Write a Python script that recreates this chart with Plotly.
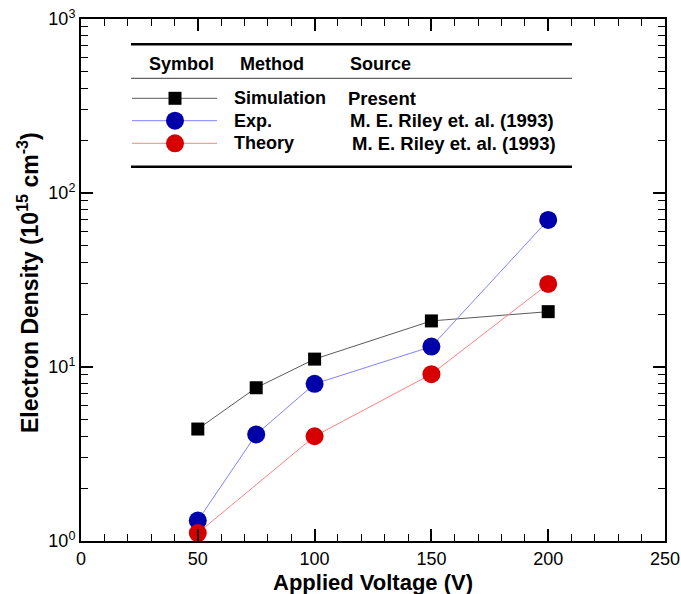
import plotly.graph_objects as go

# ---- data ----
voltage_sim = [50, 75, 100, 150, 200]
density_sim = [4.4, 7.6, 11.1, 18.4, 20.8]
voltage_exp = [50, 75, 100, 150, 200]
density_exp = [1.31, 4.1, 8.0, 13.1, 70.0]
voltage_theory = [50, 100, 150, 200]
density_theory = [1.11, 4.0, 9.1, 30.0]

x_ticks = [0, 50, 100, 150, 200, 250]
y_ticks = [1, 10, 100, 1000]
y_ticktext = ["10<sup>0</sup>", "10<sup>1</sup>", "10<sup>2</sup>", "10<sup>3</sup>"]
y_minor = [m * 10 ** d for d in range(3) for m in range(2, 10)]

legend_methods = ["Simulation", "Exp.", "Theory"]
legend_sources = ["Present", "M. E. Riley et. al. (1993)", "M. E. Riley et. al. (1993)"]
legend_headers = ["Symbol", "Method", "Source"]

# ---- style ----
W, H = 681, 594
L, R, T, B = 81, 665, 19, 541
FONT = "Liberation Sans, Arial, Helvetica, sans-serif"
sq_color = "black"
blue = "rgb(0,0,170)"
red = "rgb(215,0,0)"
line_sim = "rgb(90,90,90)"
line_blue = "rgb(130,130,255)"
line_red = "rgb(255,130,130)"


def px(x):
    return (x - L) / (R - L)


def py(y):
    return (B - y) / (B - T)


fig = go.Figure()

fig.add_trace(go.Scatter(x=voltage_sim, y=density_sim, mode="lines+markers",
                         line=dict(color=line_sim, width=1),
                         marker=dict(symbol="square", size=13, color=sq_color),
                         showlegend=False))
fig.add_trace(go.Scatter(x=voltage_exp, y=density_exp, mode="lines+markers",
                         line=dict(color=line_blue, width=1),
                         marker=dict(symbol="circle", size=18, color=blue),
                         showlegend=False))
fig.add_trace(go.Scatter(x=voltage_theory, y=density_theory, mode="lines+markers",
                         line=dict(color=line_red, width=1),
                         marker=dict(symbol="circle", size=18, color=red),
                         showlegend=False))

# ---- legend table (on overlay axes in fractional coordinates) ----
row_y = [98.3, 120.7, 143.3]
sym_styles = [
    (line_sim, "square", 13, sq_color),
    (line_blue, "circle", 18, blue),
    (line_red, "circle", 18, red),
]
for ry, (lc, sym, sz, mc) in zip(row_y, sym_styles):
    fig.add_trace(go.Scatter(x=[px(132), px(175), px(217)], y=[py(ry)] * 3,
                             mode="lines", line=dict(color=lc, width=1),
                             xaxis="x2", yaxis="y2", showlegend=False, hoverinfo="skip"))
    fig.add_trace(go.Scatter(x=[px(175)], y=[py(ry)], mode="markers",
                             marker=dict(symbol=sym, size=sz, color=mc),
                             xaxis="x2", yaxis="y2", showlegend=False, hoverinfo="skip"))

shapes = [
    dict(type="line", xref="paper", yref="paper", x0=px(131), x1=px(572), y0=py(44.3), y1=py(44.3),
         line=dict(color="black", width=2.5)),
    dict(type="line", xref="paper", yref="paper", x0=px(131), x1=px(572), y0=py(78.3), y1=py(78.3),
         line=dict(color="rgb(60,60,60)", width=1)),
    dict(type="line", xref="paper", yref="paper", x0=px(131), x1=px(572), y0=py(166.7), y1=py(166.7),
         line=dict(color="black", width=2.5)),
]

annotations = []
for txt, x in zip(legend_headers, [147, 238, 348]):
    annotations.append(dict(text="<b>%s</b>" % txt, x=px(x), y=py(63.5), xref="paper", yref="paper",
                            xanchor="left", yanchor="middle", showarrow=False,
                            font=dict(family=FONT, size=18, color="black")))
src_x = [346, 347.5, 350]
for ry, m, s, sx in zip(row_y, legend_methods, legend_sources, src_x):
    annotations.append(dict(text="<b>%s</b>" % m, x=px(232), y=py(ry), xref="paper", yref="paper",
                            xanchor="left", yanchor="middle", showarrow=False,
                            font=dict(family=FONT, size=18, color="black")))
    annotations.append(dict(text="<b>%s</b>" % s, x=px(sx), y=py(ry), xref="paper", yref="paper",
                            xanchor="left", yanchor="middle", showarrow=False,
                            font=dict(family=FONT, size=18.5, color="black")))

# axis titles as annotations for exact placement
annotations.append(dict(text="<b>Applied Voltage (V)</b>", x=px(373), y=py(582), xref="paper", yref="paper",
                        xanchor="center", yanchor="middle", showarrow=False,
                        font=dict(family=FONT, size=22, color="black")))
annotations.append(dict(text="<b>Electron Density (10<sup>15</sup> cm<sup>-3</sup>)</b>",
                        x=px(28), y=py(283), xref="paper", yref="paper", textangle=-90,
                        xanchor="center", yanchor="middle", showarrow=False,
                        font=dict(family=FONT, size=23, color="black")))

fig.update_layout(
    width=W, height=H,
    margin=dict(l=L, r=W - R, t=T, b=H - B, autoexpand=False),
    paper_bgcolor="white", plot_bgcolor="white",
    font=dict(family=FONT, color="black"),
    shapes=shapes, annotations=annotations,
    xaxis=dict(range=[0, 250], tickvals=x_ticks, ticks="inside", ticklen=12, tickwidth=2,
               tickcolor="black", showline=True, linewidth=2, linecolor="black", mirror="ticks",
               showgrid=False, zeroline=False, automargin=False,
               tickfont=dict(size=18, family=FONT),
               minor=dict(dtick=10, ticks="inside", ticklen=7, tickwidth=1, tickcolor="black")),
    yaxis=dict(type="log", range=[0, 3], tickvals=y_ticks, ticktext=y_ticktext, ticks="inside",
               ticklen=12, tickwidth=2, tickcolor="black", showline=True, linewidth=2,
               linecolor="black", mirror="ticks", showgrid=False, zeroline=False, automargin=False,
               tickfont=dict(size=18, family=FONT),
               minor=dict(tickvals=y_minor, ticks="inside", ticklen=7, tickwidth=1, tickcolor="black")),
    xaxis2=dict(range=[0, 1], overlaying="x", visible=False, fixedrange=True),
    yaxis2=dict(range=[0, 1], overlaying="y", visible=False, fixedrange=True),
)

fig.write_html("out.html")
